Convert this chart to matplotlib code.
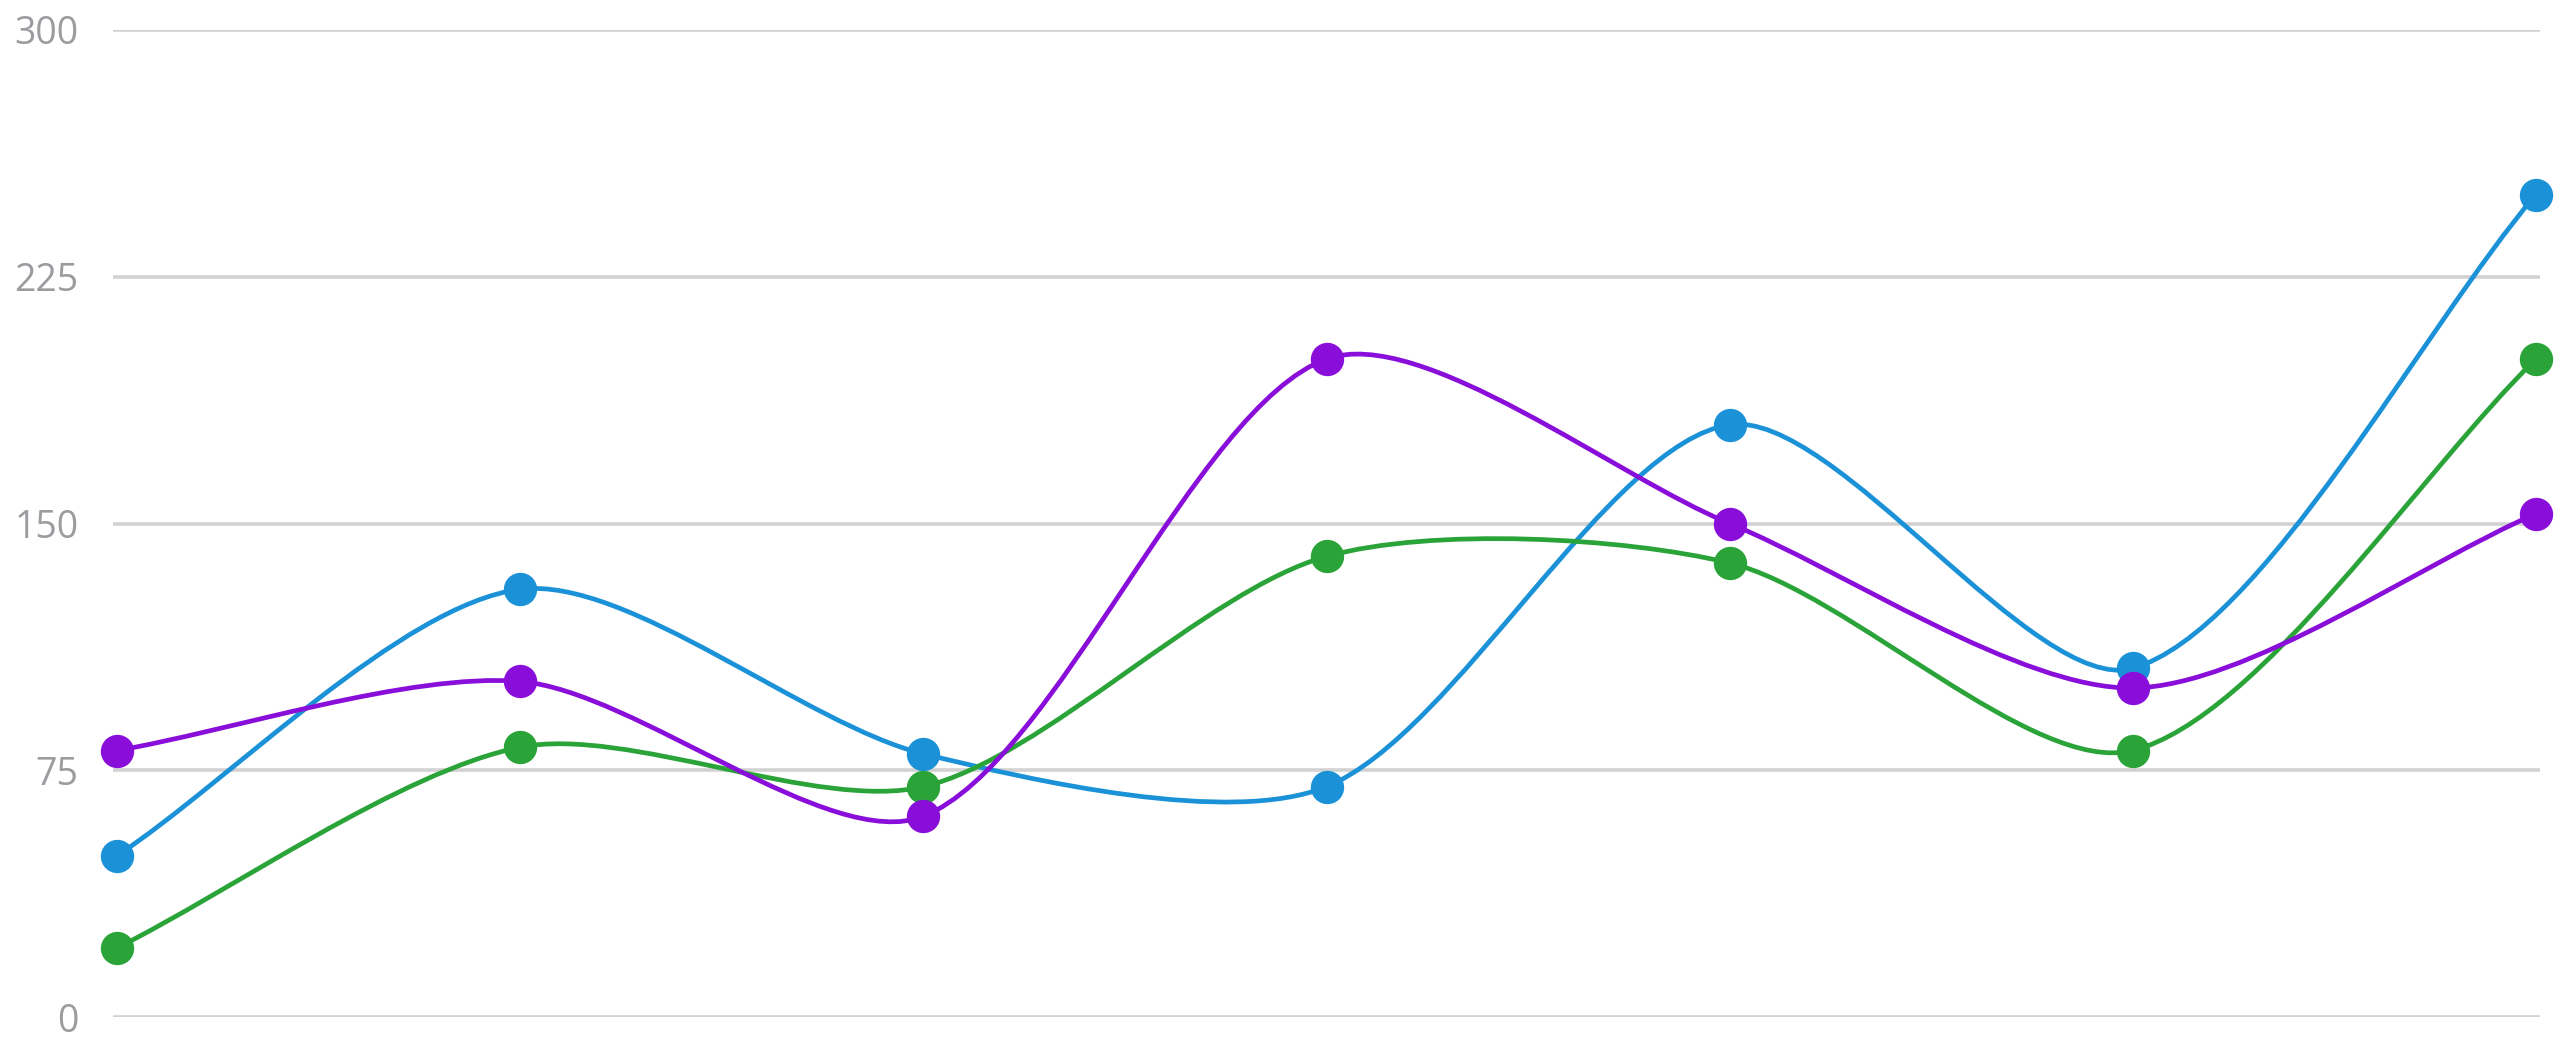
import numpy as np
import matplotlib
matplotlib.use("Agg")
import matplotlib.pyplot as plt
from matplotlib.path import Path
from matplotlib.patches import PathPatch

categories = [0, 1, 2, 3, 4, 5, 6]
blue_values = [49, 130, 80, 70, 180, 106, 250]
green_values = [21, 82, 70, 140, 138, 81, 200]
purple_values = [81, 102, 61, 200, 150, 100, 153]
y_ticks = [0, 75, 150, 225, 300]
y_tick_labels = ["0", "75", "150", "225", "300"]

colors = {"blue": "#1b92d8", "green": "#2aa338", "purple": "#8a0ed9"}

plt.rcParams["font.family"] = ["Open Sans", "DejaVu Sans"]

W, H = 2563, 1038
fig = plt.figure(figsize=(W / 100, H / 100), dpi=100)
ax = fig.add_axes([113 / W, 21 / H, 2427 / W, 987 / H])
ax.set_xlim(-0.01, 6.01)
ax.set_ylim(0, 300)


def spline_path(xs, ys, tension=0.28):
    pts = ax.transData.transform(np.column_stack([xs, ys]).astype(float))
    n = len(pts)
    cps = []
    for i in range(n):
        p = pts[max(i - 1, 0)]
        c = pts[i]
        nx = pts[min(i + 1, n - 1)]
        d01 = np.hypot(*(c - p))
        d12 = np.hypot(*(nx - c))
        tot = d01 + d12
        s01 = d01 / tot if tot else 0
        s12 = d12 / tot if tot else 0
        cps.append((c - tension * s01 * (nx - p), c + tension * s12 * (nx - p)))
    verts = [pts[0]]
    codes = [Path.MOVETO]
    for i in range(n - 1):
        verts += [cps[i][1], cps[i + 1][0], pts[i + 1]]
        codes += [Path.CURVE4] * 3
    verts = ax.transData.inverted().transform(np.array(verts))
    return Path(verts, codes)


series = [(blue_values, colors["blue"]), (green_values, colors["green"]),
          (purple_values, colors["purple"])]

for vals, col in series:
    patch = PathPatch(spline_path(categories, vals), facecolor="none",
                      edgecolor=col, lw=3.4, zorder=3, clip_on=False,
                      capstyle="round", joinstyle="round")
    ax.add_patch(patch)

for vals, col in series:
    ax.plot(categories, vals, linestyle="none", marker="o", markersize=23,
            markerfacecolor=col, markeredgecolor=col, zorder=4, clip_on=False)

ax.set_yticks(y_ticks)
ax.set_yticklabels(y_tick_labels)
ax.set_xticks([])
ax.tick_params(axis="y", length=0, pad=25, labelsize=27, labelcolor="#9b9ba0")
ax.grid(axis="y", color="#d2d2d2", linewidth=2.6)
ax.set_axisbelow(True)
for s in ax.spines.values():
    s.set_visible(False)

fig.savefig("out.png", dpi=100, facecolor="white")
